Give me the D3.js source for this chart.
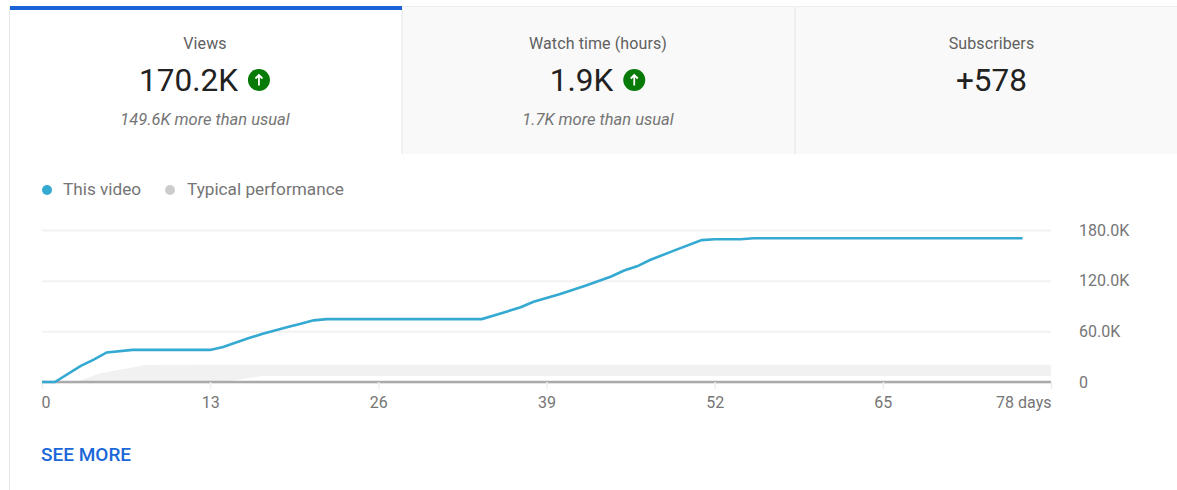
<!DOCTYPE html>
<html>
<head>
<meta charset="utf-8">
<script src="https://cdn.jsdelivr.net/npm/d3@7"></script>
<style>
    html, body { margin: 0; padding: 0; background: #fff; overflow: hidden; }
    svg { display: block; }
    text { font-family: Roboto, sans-serif; }
</style>
</head>
<body>
<svg id="drawing_region"></svg>
<script>
const days = [0, 1, 3, 4, 5, 7, 13, 14, 16, 17, 19, 20, 21, 22, 34, 35, 37, 38, 40, 42, 44, 45, 46, 47, 49, 51, 52, 54, 55, 75.8];
const views = [0, 0, 19000, 26500, 35000, 38000, 38000, 41500, 52000, 56800, 65000, 69000, 73000, 74500, 74500, 79000, 88500, 95000, 104000, 114000, 125000, 132000, 137000, 144500, 156500, 168000, 169000, 169000, 170200, 170200];

const typical_days = [2.7, 4.5, 8, 13, 14, 17, 78];
const typical_upper = [0, 10500, 20000, 20500, 20500, 20500, 20500];
const typical_lower = [0, 0, 0, 0, 0, 7000, 7000];

const x_ticks = [0, 13, 26, 39, 52, 65, 78];
const y_ticks = [0, 60000, 120000, 180000];
const y_tick_labels = ['0', '60.0K', '120.0K', '180.0K'];

const tab_titles = ['Views', 'Watch time (hours)', 'Subscribers'];
const tab_values = ['170.2K', '1.9K', '+578'];
const tab_notes = ['149.6K more than usual', '1.7K more than usual', ''];
const tab_up = [true, true, false];
const legend_labels = ['This video', 'Typical performance'];

const svg = d3.select('#drawing_region')
    .attr('width', 1177)
    .attr('height', 490);

// tabs
const tab_x = [10, 402, 795, 1177];
const tab_center = [205, 598, 991.5];
tab_titles.forEach( (title, i) => {
    const center = tab_center[i];

    if (i > 0) {
        svg.append('rect')
            .attr('x', tab_x[i])
            .attr('y', 6)
            .attr('width', tab_x[i + 1] - tab_x[i])
            .attr('height', 148)
            .style('fill', '#f9f9f9');
        svg.append('line')
            .attr('x1', tab_x[i]).attr('x2', tab_x[i])
            .attr('y1', 6).attr('y2', 154)
            .style('stroke', '#e6e6e6');
    }

    svg.append('text')
        .attr('x', center)
        .attr('y', 49)
        .attr('text-anchor', 'middle')
        .style('font-size', '16px')
        .style('letter-spacing', '0.1px')
        .style('fill', '#606060')
        .text(title);

    const value = svg.append('text')
        .attr('x', center)
        .attr('y', 91)
        .style('font-size', '31.5px')
        .style('fill', '#212121')
        .text(tab_values[i]);

    const value_width = value.node().getComputedTextLength();
    const total = value_width + (tab_up[i] ? 33 : 0);
    value.attr('x', center - total / 2);

    if (tab_up[i]) {
        const cx = center - total / 2 + value_width + 21;
        svg.append('circle')
            .attr('cx', cx).attr('cy', 80).attr('r', 11)
            .style('fill', '#087a08');
        svg.append('path')
            .attr('d', `M${cx},85.5V75M${cx - 3.5},78.5L${cx},75L${cx + 3.5},78.5`)
            .style('fill', 'none')
            .style('stroke', '#fff')
            .style('stroke-width', 1.8);
    }

    svg.append('text')
        .attr('x', center)
        .attr('y', 125)
        .attr('text-anchor', 'middle')
        .style('font-size', '16.5px')
        .style('font-style', 'italic')
        .style('fill', '#757575')
        .text(tab_notes[i]);
});

svg.append('rect')
    .attr('x', 10).attr('y', 6)
    .attr('width', 392).attr('height', 4)
    .style('fill', '#1a62d6');
svg.append('line')
    .attr('x1', 402).attr('x2', 1177)
    .attr('y1', 6.5).attr('y2', 6.5)
    .style('stroke', '#eeeeee');
svg.append('line')
    .attr('x1', 9.5).attr('x2', 9.5)
    .attr('y1', 6).attr('y2', 490)
    .style('stroke', '#e8e8e8');

// legend
const legend_x = [47, 170];
const legend_text_x = [63, 187];
const legend_colors = ['#34a9d1', '#cccccc'];
legend_labels.forEach( (label, i) => {
    svg.append('circle')
        .attr('cx', legend_x[i]).attr('cy', 190).attr('r', 5)
        .style('fill', legend_colors[i]);
    svg.append('text')
        .attr('x', legend_text_x[i])
        .attr('y', 195)
        .style('font-size', '17.2px')
        .style('fill', '#757575')
        .text(label);
});

// chart
const xscale = d3.scaleLinear().domain([0, 78]).range([42, 1051]);
const yscale = d3.scaleLinear().domain([0, 180000]).range([382, 230]);

const yaxis = d3.axisRight(yscale)
    .tickValues(y_ticks)
    .tickSize(1009)
    .tickPadding(28)
    .tickFormat( (d, i) => y_tick_labels[i] );

const yaxis_group = svg.append('g')
    .attr('transform', 'translate(42, 0)')
    .call(yaxis);
yaxis_group.select('.domain').remove();
yaxis_group.selectAll('line')
    .style('stroke', '#f2f2f2')
    .style('stroke-width', 2);
yaxis_group.selectAll('text')
    .style('font-size', '16px')
    .style('fill', '#757575');

const typical_area = d3.area()
    .x( (d, i) => xscale(typical_days[i]) )
    .y0( (d, i) => yscale(typical_lower[i]) )
    .y1( (d, i) => yscale(typical_upper[i]) );

svg.append('path')
    .datum(typical_days)
    .attr('d', typical_area)
    .style('fill', '#f1f1f1');

const xaxis = d3.axisBottom(xscale)
    .tickValues(x_ticks)
    .tickSize(7)
    .tickPadding(8)
    .tickFormat( d => d == 78 ? '78 days' : d );

const xaxis_group = svg.append('g')
    .attr('transform', 'translate(0, 382)')
    .call(xaxis);
xaxis_group.select('.domain')
    .attr('d', `M42,0H1051`)
    .style('stroke', '#aaaaaa')
    .style('stroke-width', 2.5);
xaxis_group.selectAll('line')
    .style('stroke', '#eeeeee')
    .style('stroke-width', 1.5);
xaxis_group.selectAll('text')
    .style('font-size', '16px')
    .style('fill', '#757575');
xaxis_group.selectAll('text')
    .filter( d => d == 0 )
    .attr('text-anchor', 'start')
    .attr('x', -1);
xaxis_group.selectAll('text')
    .filter( d => d == 78 )
    .attr('text-anchor', 'end');

const view_line = d3.line()
    .x( (d, i) => xscale(days[i]) )
    .y( d => yscale(d) );

svg.append('path')
    .datum(views)
    .attr('d', view_line)
    .style('fill', 'none')
    .style('stroke', '#34a9d1')
    .style('stroke-width', 2.6);

svg.append('text')
    .attr('x', 41)
    .attr('y', 460.5)
    .style('font-size', '19px')
    .style('font-weight', 500)
    .style('fill', '#1a67d8')
    .text('SEE MORE');
</script>
</body>
</html>
